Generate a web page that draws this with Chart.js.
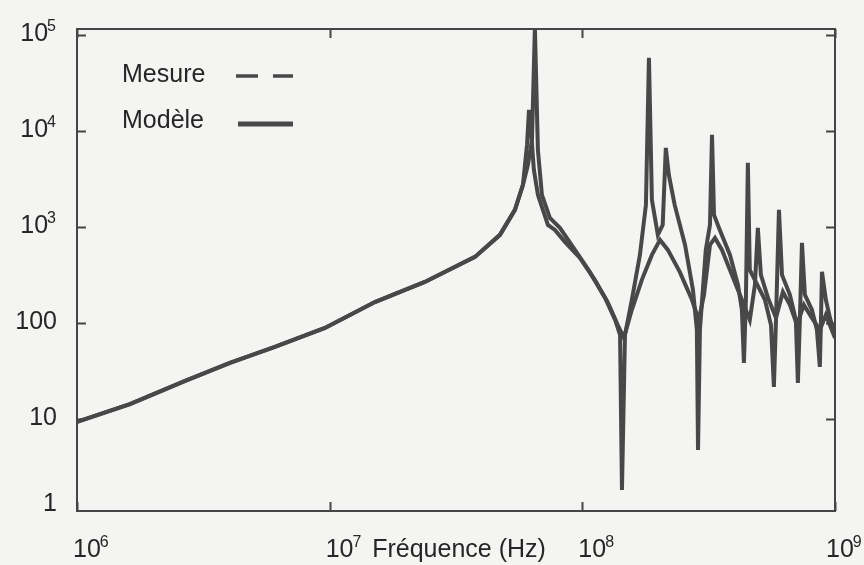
<!DOCTYPE html>
<html>
<head>
<meta charset="utf-8">
<script src="https://cdn.jsdelivr.net/npm/chart.js@4.4.0/dist/chart.umd.min.js"></script>
<style>
  html, body { margin: 0; padding: 0; background: #f4f4f2; }
  #wrap { width: 864px; height: 565px; position: relative; }
</style>
</head>
<body>
<div id="wrap"><canvas id="impChart"></canvas></div>
<script>
// frequencies in MHz, impedance in ohms
// low-frequency part, common to both curves
let lowFreq = [1, 1.62, 2.68, 4.03, 6.07, 9.58, 15.1, 23.8, 37.6, 47.2, 54.1, 58.2];
let lowZ = [9.3, 14.3, 24.9, 38.3, 56.2, 88.7, 165, 267, 487, 826, 1503, 2738];

let modeleFreq = [60.9, 63.2, 64.9, 66.7, 69.2, 74.4, 81.5, 93.5, 107, 123, 135, 141, 143.5, 147.5, 157, 169,
  178.5, 183.5, 188.5, 199, 208, 214, 220, 232, 255, 274, 284, 287, 292, 308, 320, 326, 332, 350, 384, 413,
  428, 436, 444, 452, 460, 486, 528, 558, 573, 584, 600, 617, 663, 700, 713, 726, 740, 760, 810, 848, 871,
  880, 888, 920, 955, 1000];
let modeleZ = [4424, 8055, 120000, 6340, 2154, 1241, 977, 576, 340, 182, 107, 75, 1.82, 75, 174, 511,
  1695, 57600, 1910, 826, 1049, 6650, 3480, 1695, 649, 221, 84.6, 4.75, 84.6, 576, 1049, 9090, 1334, 930, 511, 249,
  137, 38.3, 174, 4642, 356, 267, 174, 95.3, 21.5, 107, 1503, 316, 196, 107, 23.7, 107, 681, 196, 137, 84.6, 34.8,
  107, 340, 174, 113, 75];

let mesureFreq = [60.4, 61.5, 62.6, 64.3, 66.7, 69.8, 73.1, 77.9, 85.3, 97.8, 112, 126, 138, 146, 157, 172,
  188.5, 203, 218, 243, 271.5, 289, 303, 320, 335, 357, 391, 428, 460, 482, 495, 509, 543, 584, 622, 663,
  707, 753, 810, 871, 920, 1000];
let mesureZ = [7145, 16550, 10240, 3926, 2154, 1503, 1049, 930, 698, 475, 281, 165, 95.3, 69.8, 137, 281,
  511, 732, 576, 340, 174, 107, 196, 649, 768, 576, 316, 174, 107, 249, 977, 316, 182, 113, 210, 154,
  95.3, 154, 113, 84.6, 121, 69.8];

let xTicks = [1e6, 1e7, 1e8, 1e9];
let yTicks = [1, 10, 100, 1e3, 1e4, 1e5];

function toPoints(freqs, zs) {
  let pts = [];
  for (let i = 0; i < freqs.length; i++) {
    pts.push({ x: freqs[i] * 1e6, y: zs[i] });
  }
  return pts;
}

let lineColor = '#484848';
let textColor = '#262626';
let fontMain = '25px "Liberation Sans", Arial, sans-serif';
let fontSup = '16px "Liberation Sans", Arial, sans-serif';

// "10" with a raised exponent, or a plain number below 1000
function drawPow(ctx, value, x, baseline, align) {
  let exp = Math.round(Math.log10(value));
  ctx.font = fontMain;
  if (exp < 3) {
    let txt = String(value);
    let w = ctx.measureText(txt).width;
    ctx.fillText(txt, align === 'right' ? x - w : x, baseline);
    return;
  }
  let w10 = ctx.measureText('10').width;
  ctx.font = fontSup;
  let wExp = ctx.measureText(String(exp)).width;
  let left = align === 'right' ? x - w10 - wExp : x;
  ctx.font = fontMain;
  ctx.fillText('10', left, baseline);
  ctx.font = fontSup;
  ctx.fillText(String(exp), left + w10 - 1, baseline - 10);
}

const frameAndLabels = {
  id: 'frameAndLabels',
  afterDatasetsDraw(chart) {
    const { ctx, chartArea: a, scales } = chart;
    const xs = scales.x, ys = scales.y;
    ctx.save();

    // frame
    ctx.strokeStyle = '#454545';
    ctx.lineWidth = 2;
    ctx.strokeRect(a.left, a.top, a.right - a.left, a.bottom - a.top);

    // inward ticks on all sides
    ctx.beginPath();
    xTicks.forEach(v => {
      let px = Math.round(xs.getPixelForValue(v)) + 0.5;
      ctx.moveTo(px, a.bottom); ctx.lineTo(px, a.bottom - 9);
      ctx.moveTo(px, a.top); ctx.lineTo(px, a.top + 9);
    });
    yTicks.forEach(v => {
      let py = Math.round(ys.getPixelForValue(v)) + 0.5;
      if (py > a.bottom || py < a.top) return;
      ctx.moveTo(a.left, py); ctx.lineTo(a.left + 9, py);
      ctx.moveTo(a.right, py); ctx.lineTo(a.right - 9, py);
    });
    ctx.stroke();

    // tick labels
    ctx.fillStyle = textColor;
    ctx.textBaseline = 'alphabetic';
    yTicks.forEach(v => {
      let center = Math.min(ys.getPixelForValue(v) - 3, a.bottom - 9);
      drawPow(ctx, v, a.left - 20, center + 9, 'right');
    });
    xTicks.forEach(v => {
      let px = Math.min(xs.getPixelForValue(v) - 4, chart.width - 38);
      drawPow(ctx, v, px, a.bottom + 46, 'left');
    });

    // axis title
    ctx.font = fontMain;
    ctx.textAlign = 'center';
    ctx.fillText('Fréquence (Hz)', (a.left + a.right) / 2 + 3, a.bottom + 46);
    ctx.textAlign = 'left';

    // legend: text first, line sample after
    let ds = chart.data.datasets;
    ctx.fillText(ds[0].label, a.left + 45, a.top + 53);
    ctx.fillText(ds[1].label, a.left + 45, a.top + 99);
    ctx.strokeStyle = lineColor;
    ctx.lineWidth = 3.5;
    ctx.setLineDash([22, 15]);
    ctx.beginPath();
    ctx.moveTo(a.left + 159, a.top + 47); ctx.lineTo(a.left + 216, a.top + 47);
    ctx.stroke();
    ctx.setLineDash([]);
    ctx.lineWidth = 5;
    ctx.beginPath();
    ctx.moveTo(a.left + 161, a.top + 95); ctx.lineTo(a.left + 216, a.top + 95);
    ctx.stroke();

    ctx.restore();
  }
};

let canvasEl = document.getElementById('impChart').getContext('2d');

var impChart = new Chart(canvasEl, {
  type: 'line',
  data: {
    datasets: [{
      label: 'Mesure',
      data: toPoints(lowFreq.concat(mesureFreq), lowZ.concat(mesureZ)),
      borderColor: lineColor,
      borderWidth: 4,
      pointRadius: 0,
      tension: 0,
      clip: 0
    },
    {
      label: 'Modèle',
      data: toPoints(lowFreq.concat(modeleFreq), lowZ.concat(modeleZ)),
      borderColor: lineColor,
      borderWidth: 4,
      pointRadius: 0,
      tension: 0,
      clip: 0
    }]
  },
  options: {
    responsive: true,
    maintainAspectRatio: false,
    animation: false,
    layout: { padding: { left: 77, right: 29, top: 29, bottom: 54 } },
    plugins: {
      legend: { display: false },
      tooltip: { enabled: false }
    },
    scales: {
      x: { type: 'logarithmic', min: 1e6, max: 1e9, display: false },
      y: { type: 'logarithmic', min: 1.1, max: 1.15e5, display: false }
    }
  },
  plugins: [frameAndLabels]
});
</script>
</body>
</html>
